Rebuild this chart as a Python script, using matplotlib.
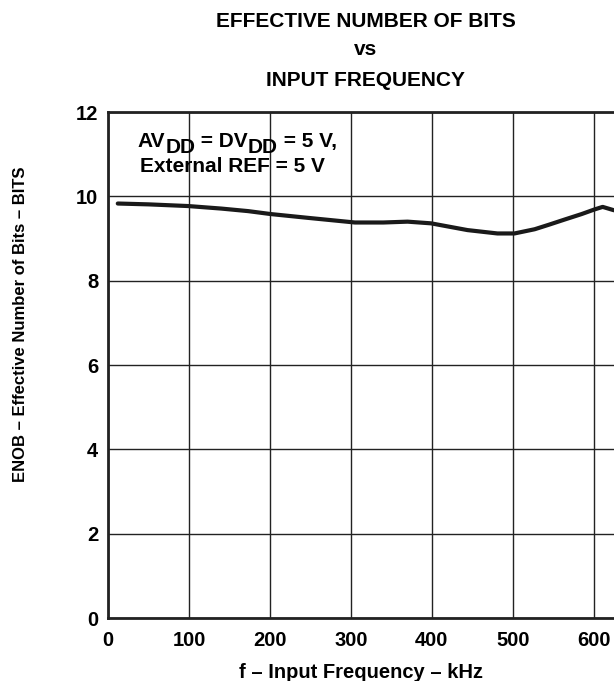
import numpy as np
import matplotlib.pyplot as plt

plt.rcParams['font.family'] = ['Liberation Sans', 'DejaVu Sans']
plt.rcParams['font.weight'] = 'bold'
plt.rcParams['axes.labelweight'] = 'bold'

# ENOB curve
freq_khz = [12, 50, 99, 140, 173, 201, 247, 305, 340, 370, 399, 444, 481, 502,
            527, 545, 564, 585, 601, 611, 625]
enob_bits = [9.83, 9.81, 9.77, 9.71, 9.65, 9.58, 9.49, 9.38, 9.38, 9.40, 9.36,
             9.20, 9.12, 9.12, 9.22, 9.33, 9.45, 9.58, 9.69, 9.75, 9.67]

x_ticks = [0, 100, 200, 300, 400, 500, 600]
y_ticks = [0, 2, 4, 6, 8, 10, 12]

fig = plt.figure(figsize=(6.14, 6.81), dpi=100)
ax = fig.add_axes([0.176, 0.0925, 0.824, 0.743])

ax.plot(freq_khz, enob_bits, color='#1a1a1a', lw=3, solid_capstyle='round',
        solid_joinstyle='round', zorder=3)

ax.set_xlim(0, 625)
ax.set_ylim(0, 12)
ax.set_xticks(x_ticks)
ax.set_yticks(y_ticks)
ax.tick_params(length=0, labelsize=14.5)
ax.tick_params(axis='x', pad=9)
ax.tick_params(axis='y', pad=7)
ax.grid(True, color='#222222', lw=1)
ax.spines['right'].set_visible(False)
for s in ['left', 'bottom', 'top']:
    ax.spines[s].set_linewidth(2)
    ax.spines[s].set_color('#222222')

ax.set_xlabel('f – Input Frequency – kHz', fontsize=14.5, labelpad=10)
fig.text(0.034, 0.524, 'ENOB – Effective Number of Bits – BITS', rotation=90,
         ha='center', va='center', fontsize=12)

# annotation with full-size, lowered subscripts
fs = 15
t = ax.text(0.059, 0.931, 'AV', transform=ax.transAxes, fontsize=fs, va='baseline')
for piece, dy in [('DD', -4.5), (' = DV', 4.5), ('DD', -4.5), (' = 5 V,', 4.5)]:
    t = ax.annotate(piece, xy=(1, 0), xycoords=t, xytext=(0, dy),
                    textcoords='offset points', fontsize=fs, va='bottom')
ax.text(0.063, 0.881, 'External REF = 5 V', transform=ax.transAxes,
        fontsize=fs, va='baseline')

fig.text(0.596, 0.9604, 'EFFECTIVE NUMBER OF BITS', ha='center', va='baseline', fontsize=15)
fig.text(0.596, 0.9192, 'vs', ha='center', va='baseline', fontsize=15)
fig.text(0.596, 0.8737, 'INPUT FREQUENCY', ha='center', va='baseline', fontsize=15)

fig.savefig('out.png', dpi=100)
